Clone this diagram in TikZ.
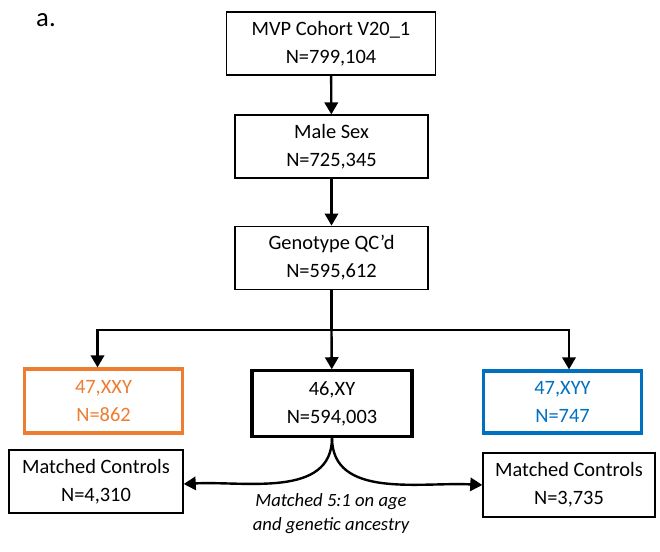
\documentclass[tikz,border=0pt]{standalone}
\usepackage{fontspec}
\setmainfont{Carlito}
\usetikzlibrary{arrows.meta}
\definecolor{xxyOrange}{HTML}{ED7D31}
\definecolor{xyyBlue}{HTML}{0070C0}
\tikzset{
	box/.style={rectangle, draw=black, line width=1.1pt, fill=white, align=center,
		inner sep=0pt, font=\fontsize{15.3}{21}\selectfont},
	thickbox/.style={box, line width=2.4pt},
	flow/.style={line width=1.8pt, -{Triangle[width=10pt,length=9pt]}},
}
\begin{document}
\begin{tikzpicture}[x=0.75pt, y=-0.75pt]
		\useasboundingbox (0,0) rectangle (660,552);
		%-------------------------------------------------------------------------------
		% panel label
		%-------------------------------------------------------------------------------
		\node[font=\fontsize{20}{24}\selectfont] (panel) at (46,20) {a.};
		
		% core nodes
		\node[box, minimum width=157pt, minimum height=47.5pt] (cohort) 
			at (331,43.5) {MVP Cohort V20\_1\\N=799,104};
		\node[box, minimum width=144.5pt, minimum height=47pt] (male) 
			at (331.5,146.5) {Male Sex\\N=725,345};
		\node[box, minimum width=144.5pt, minimum height=47.5pt] (geno) 
			at (331.5,258) {Genotype QC’d\\N=595,612};
		\node[thickbox, draw=xxyOrange, text=xxyOrange, minimum width=119pt, minimum height=48pt] (xxy) 
			at (103.5,401) {47,XXY\\N=862};
		\node[thickbox, minimum width=120pt, minimum height=49pt] (xy) 
			at (332,403.5) {46,XY\\N=594,003};
		\node[thickbox, draw=xyyBlue, text=xyyBlue, minimum width=119pt, minimum height=46.5pt] (xyy) 
			at (562.5,402) {47,XYY\\N=747};
		\node[box, minimum width=130.5pt, minimum height=47.5pt] (ctrlxxy) 
			at (96,481.5) {Matched Controls\\N=4,310};
		\node[box, minimum width=129pt, minimum height=48pt] (ctrlxyy) 
			at (569,485) {Matched Controls\\N=3,735};
		
		% split point
		\coordinate (split) at (331.5,330);
		
		% forward
		\draw[flow] (cohort) -- (male);
		\draw[flow] (male) -- (geno);
		\draw[line width=1.8pt] (geno) -- (split);
		\draw[flow] (split) -| (xxy.north -| 97.5,0);
		\draw[flow] (split) -| (xyy.north -| 569,0);
		\draw[flow] (split) -- (xy);
		
		% matching
		\draw[flow] (xy.south) to[out=-90, in=3] (ctrlxxy.east |- 0,484);
		\draw[flow] (xy.south) to[out=-90, in=177] (ctrlxyy.west |- 0,485);
		
		% labels
		\node[align=center, font=\fontsize{14}{18}\itshape] (note) 
			at (331,514) {Matched 5:1 on age\\and genetic ancestry};
		\end{tikzpicture}
\end{document}
